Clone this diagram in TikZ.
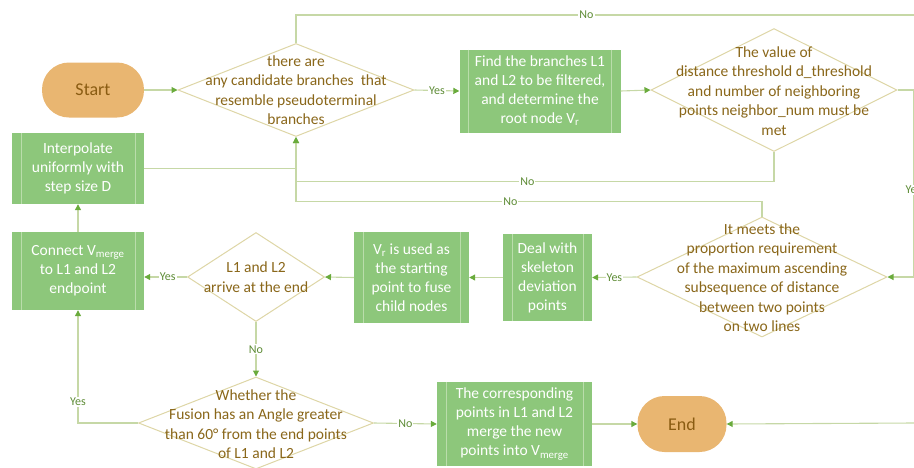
\documentclass[tikz,border=0pt]{standalone}
\usepackage{fontspec}
\setmainfont{Carlito}
\usetikzlibrary{shapes.geometric,arrows.meta}
\definecolor{boxgreen}{HTML}{8DC77B}
\definecolor{innergreen}{HTML}{BADDAB}
\definecolor{startorange}{HTML}{E9B671}
\definecolor{darkbrown}{HTML}{8A5C12}
\definecolor{olivetext}{HTML}{8A671A}
\definecolor{diaborder}{HTML}{DED6A6}
\definecolor{linecol}{HTML}{C6D8A6}
\definecolor{arrowgreen}{HTML}{6AAB3C}
\definecolor{labgreen}{HTML}{5E8C36}
\begin{document}
\begin{tikzpicture}[x=1pt,y=-1pt,
  terminal/.style={rectangle, fill=startorange, draw=none, rounded corners=27pt,
    text=darkbrown, font=\fontsize{18}{20}\selectfont, inner sep=0pt},
  procbox/.style={rectangle, fill=boxgreen, draw=none, text=white, align=center,
    inner sep=0pt, font=\fontsize{15.5}{19}\selectfont,
    path picture={\draw[innergreen, line width=0.9pt]
      ([xshift=9pt]path picture bounding box.north west) -- ([xshift=9pt]path picture bounding box.south west)
      ([xshift=-9pt]path picture bounding box.north east) -- ([xshift=-9pt]path picture bounding box.south east);}},
  decision/.style={diamond, draw=diaborder, line width=1pt, fill=white, inner sep=0pt},
  dtext/.style={text=olivetext, align=center, font=\fontsize{15.5}{19.5}\selectfont, inner sep=0pt},
  flow/.style={draw=linecol, line width=1.1pt, -{Triangle[length=6pt,width=6pt,color=arrowgreen]}},
  plainline/.style={draw=linecol, line width=1.1pt},
  lab/.style={fill=white, text=labgreen, font=\fontsize{12}{12}\selectfont, inner sep=1pt}
]
\useasboundingbox (0,0) rectangle (914,467);

% nodes
\node[terminal, minimum width=102pt, minimum height=55pt] (start) at (93,90) {Start};
\node[decision, minimum width=236pt, minimum height=93pt] (d1) at (296,90) {};
\node[dtext] (d1t) at (296,90) {there are\\any candidate branches\ \ that\\resemble pseudoterminal\\branches};
\node[procbox, minimum width=161pt, minimum height=83pt] (find) at (540,91)
  {Find the branches L1\\and L2 to be filtered,\\and determine the\\root node V\textsubscript{r}};
\node[decision, minimum width=246pt, minimum height=123pt] (d2) at (774,90) {};
\node[dtext] (d2t) at (774,91) {The value of\\distance threshold d\_threshold\\and number of neighboring\\points neighbor\_num must be\\met};
\node[decision, minimum width=250pt, minimum height=120pt] (d3) at (762,277) {};
\node[dtext] (d3t) at (762,277.5) {It meets the\\proportion requirement\\of the maximum ascending\\subsequence of distance\\between two points\\on two lines};
\node[procbox, minimum width=89pt, minimum height=87pt] (deal) at (547.5,277.5)
  {Deal with\\skeleton\\deviation\\points};
\node[procbox, minimum width=115pt, minimum height=91pt] (vr) at (411.5,277.5)
  {V\textsubscript{r} is used as\\the starting\\point to fuse\\child nodes};
\node[decision, minimum width=137pt, minimum height=89pt] (d4) at (256,277) {};
\node[dtext] (d4t) at (256,277) {L1 and L2\\arrive at the end};
\node[procbox, minimum width=132pt, minimum height=78pt] (connect) at (78,271)
  {Connect V\textsubscript{merge}\\to L1 and L2\\endpoint};
\node[procbox, minimum width=132pt, minimum height=71pt] (interp) at (78,168.5)
  {Interpolate\\uniformly with\\step size D};
\node[decision, minimum width=235pt, minimum height=92pt] (d5) at (256,423) {};
\node[dtext] (d5t) at (256,424) {Whether the\\Fusion has an Angle greater\\than 60° from the end points\\of L1 and L2};
\node[procbox, minimum width=155pt, minimum height=84pt] (merge) at (514.5,424)
  {The corresponding\\points in L1 and L2\\merge the new\\points into V\textsubscript{merge}};
\node[terminal, minimum width=89pt, minimum height=56pt] (endn) at (682,424) {End};

\coordinate (topright) at (914,15);
\coordinate (botright) at (914,423);

% connectors
\draw[flow] (start.east) -- (d1.west);
\draw[flow] (d1.east) -- node[lab]{Yes} (find.west);
\draw[flow] (find.east) -- (d2.west);
\draw[flow] (d2.east) -- ++(16,0) coordinate (a4) -- node[lab, pos=0.535]{Yes} (a4 |- d3.east) -- (d3.east);
\draw[flow] (d2.south) -- ++(0,29.5) coordinate (a5) -- node[lab, pos=0.516]{No} (a5 -| d1.south) -- (d1.south);
\draw[flow] (d3.north) -- ++(0,-15) coordinate (a6) -- node[lab, pos=0.54]{No} (a6 -| d1.south) -- (d1.south);
\draw[plainline] (interp.east) -- (interp.east -| d1.south);
\draw[flow] (d3.west) -- node[lab]{Yes} (deal.east);
\draw[flow] (deal.west) -- (vr.east);
\draw[flow] (vr.west) -- (d4.east);
\draw[flow] (d4.west) -- node[lab, pos=0.45]{Yes} (d4.west -| connect.east);
\draw[flow] (connect.north) -- (interp.south);
\draw[flow] (d4.south) -- node[lab]{No} (d5.north);
\draw[flow] (d5.west) -| node[lab, pos=0.593]{Yes} (connect.south);
\draw[flow] (d5.east) -- node[lab]{No} (merge.west);
\draw[flow] (merge.east) -- (endn.west);
\draw[plainline] (d1.north) -- ++(0,-28) coordinate (a17) -- node[lab, pos=0.47]{No} (topright);
\draw[flow] (botright) -- (endn.east);
\end{tikzpicture}
\end{document}
